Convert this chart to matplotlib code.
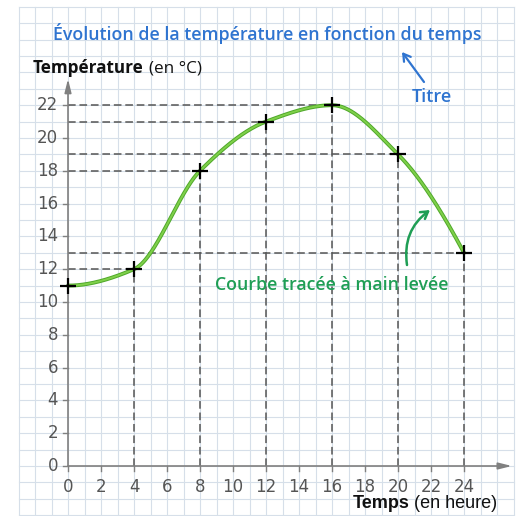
import numpy as np
import matplotlib
matplotlib.use("Agg")
import matplotlib.pyplot as plt

# ---- data ----
hours = [0, 4, 8, 12, 16, 20, 24]
temps = [11, 12, 18, 21, 22, 19, 13]
x_ticks = list(range(0, 25, 2))
y_ticks = list(range(0, 23, 2))
title = "Évolution de la température en fonction du temps"
curve_note = "Courbe tracée à main levée"
title_note = "Titre"


def pchip(x, y, xs):
    x = np.asarray(x, float); y = np.asarray(y, float)
    h = np.diff(x); d = np.diff(y) / h
    n = len(x); m = np.zeros(n)
    for k in range(1, n - 1):
        if d[k - 1] * d[k] > 0:
            w1 = 2 * h[k] + h[k - 1]; w2 = h[k] + 2 * h[k - 1]
            m[k] = (w1 + w2) / (w1 / d[k - 1] + w2 / d[k])
    m[0] = ((2 * h[0] + h[1]) * d[0] - h[0] * d[1]) / (h[0] + h[1])
    if np.sign(m[0]) != np.sign(d[0]): m[0] = 0
    m[-1] = ((2 * h[-1] + h[-2]) * d[-1] - h[-1] * d[-2]) / (h[-1] + h[-2])
    if np.sign(m[-1]) != np.sign(d[-1]): m[-1] = 0
    out = np.empty_like(xs)
    for i, xv in enumerate(xs):
        k = min(np.searchsorted(x, xv, side="right") - 1, n - 2)
        t = (xv - x[k]) / h[k]
        h00 = 2 * t**3 - 3 * t**2 + 1; h10 = t**3 - 2 * t**2 + t
        h01 = -2 * t**3 + 3 * t**2; h11 = t**3 - t**2
        out[i] = h00 * y[k] + h10 * h[k] * m[k] + h01 * y[k + 1] + h11 * h[k] * m[k + 1]
    return out


W, H = 524, 516
fig = plt.figure(figsize=(W / 100, H / 100), dpi=100)
ax = fig.add_axes([0, 0, 1, 1])
sx, sy = 16.5, 16.4
ox, oy = 68, 466
ax.set_xlim(-ox / sx, (W - ox) / sx)
ax.set_ylim(-(H - oy) / sy, oy / sy)
ax.axis("off")

grid_c = "#d6dfe9"
for gx in range(-3, 28):
    ax.plot([gx, gx], [-3, 28], color=grid_c, lw=0.8, zorder=0)
for gy in range(-3, 29):
    ax.plot([-3, 27], [gy, gy], color=grid_c, lw=0.8, zorder=0)

# axes with arrows
axc = "#808080"
ax.annotate("", xy=(26.9, 0), xytext=(0, 0),
            arrowprops=dict(arrowstyle="-|>,head_length=0.8,head_width=0.2", color=axc, lw=1.2, shrinkA=0, shrinkB=0))
ax.annotate("", xy=(0, 23.6), xytext=(0, 0),
            arrowprops=dict(arrowstyle="-|>,head_length=0.8,head_width=0.2", color=axc, lw=1.2, shrinkA=0, shrinkB=0))

tick_c = "#555555"
for t in x_ticks:
    ax.plot([t, t], [0, -0.3], color=axc, lw=1)
    ax.text(t, -1.25, str(t), ha="center", va="center", fontsize=12, color=tick_c, family="DejaVu Sans")
for t in y_ticks:
    ax.plot([-0.3, 0], [t, t], color=axc, lw=1)
    ax.text(-0.6, t, str(t), ha="right", va="center", fontsize=12, color=tick_c, family="DejaVu Sans")

# dashed guide lines
for xv, yv in zip(hours, temps):
    if xv == 0:
        continue
    ax.plot([0, xv], [yv, yv], color="#555555", lw=1.1, ls=(0, (5, 2.5)), zorder=2)
    ax.plot([xv, xv], [0, yv], color="#555555", lw=1.1, ls=(0, (5, 2.5)), zorder=2)

xs = np.linspace(hours[0], hours[-1], 400)
ys = pchip(hours, temps, xs)
ax.plot(xs, ys, color="#4fa82a", lw=2.8, zorder=3, solid_capstyle="round")
ax.plot(xs, ys, color="#7fd04a", lw=1.4, zorder=3, solid_capstyle="round")
ax.plot(hours, temps, ls="none", marker="+", ms=11, mew=1.6, color="black", zorder=4)

# texts
blue = "#2f74d0"
ax.text((267 - ox) / sx, (oy - 33) / sy, title, ha="center", va="center", fontsize=12.8,
        color=blue, family="Open Sans", fontweight="semibold")
ax.text((432 - ox) / sx, (oy - 97) / sy, title_note, ha="center", va="center", fontsize=13,
        color=blue, family="Open Sans", fontweight="semibold")
ax.annotate("", xy=((402 - ox) / sx, (oy - 52) / sy), xytext=((424 - ox) / sx, (oy - 82) / sy),
            arrowprops=dict(arrowstyle="->,head_length=0.5,head_width=0.3", color=blue, lw=1.6,
                            shrinkA=0, shrinkB=0))

t1 = ax.text((33 - ox) / sx, (oy - 68) / sy, "Température", ha="left", va="center", fontsize=12.3,
             fontweight="bold", color="#111111", family="Open Sans")
ax.annotate("(en °C)", xy=(1, 0.5), xycoords=t1, xytext=(4, 0), textcoords="offset points",
            ha="left", va="center", fontsize=12.3, color="#111111", family="Open Sans")

t2 = ax.text((497 - ox) / sx, (oy - 503) / sy, "(en heure)", ha="right", va="center", fontsize=13,
             color="#111111", family="Liberation Sans")
ax.annotate("Temps", xy=(0, 0.5), xycoords=t2, xytext=(-3, 0), textcoords="offset points",
            ha="right", va="center", fontsize=13, fontweight="bold", color="#111111",
            family="Liberation Sans")

green = "#1f9e55"
ax.text((332 - ox) / sx, (oy - 285) / sy, curve_note, ha="center", va="center", fontsize=12.8,
        color=green, family="Open Sans", fontweight="semibold")
ax.annotate("", xy=((430 - ox) / sx, (oy - 210) / sy), xytext=((407 - ox) / sx, (oy - 265) / sy),
            arrowprops=dict(arrowstyle="->,head_length=0.5,head_width=0.3", color=green, lw=1.8,
                            shrinkA=0, shrinkB=0, connectionstyle="arc3,rad=-0.3"))

fig.savefig("out.png", dpi=100, facecolor="white")
